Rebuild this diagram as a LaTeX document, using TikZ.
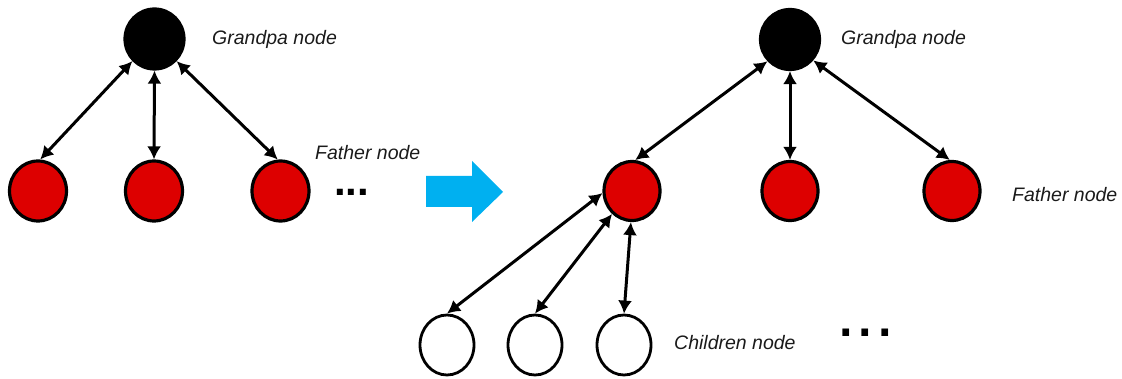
\documentclass[tikz,border=0pt]{standalone}
\usepackage{fontspec}
\setmainfont{Liberation Sans}
\usetikzlibrary{shapes.geometric,arrows.meta}
\definecolor{nodered}{HTML}{DD0000}
\definecolor{arrowblue}{HTML}{00B0F0}
\definecolor{labelgray}{HTML}{1A1A1A}
\begin{document}
\begin{tikzpicture}[x=1pt,y=-1pt,
  gnode/.style={ellipse,draw=black,line width=3.2pt,fill=black,minimum width=59pt,minimum height=60pt,inner sep=0pt},
  fnode/.style={ellipse,draw=black,line width=3.2pt,fill=nodered,minimum width=56pt,minimum height=59pt,inner sep=0pt},
  cnode/.style={ellipse,draw=black,line width=2.8pt,fill=white,minimum width=54pt,minimum height=60pt,inner sep=0pt},
  link/.style={line width=3pt,{Latex[length=13pt,width=14pt]}-{Latex[length=13pt,width=14pt]}},
  lbl/.style={font=\fontsize{19.5}{22}\selectfont\itshape,text=labelgray,inner sep=0pt,anchor=west}
]
\useasboundingbox (0,0) rectangle (1122,379);
% left tree
\node[gnode] (gpL) at (154.5,39) {};
\node[fnode,minimum width=57pt,minimum height=60pt] (fL1) at (38,191) {};
\node[fnode,minimum width=57pt,minimum height=60pt] (fL2) at (154,191) {};
\node[fnode,minimum width=57pt,minimum height=60pt] (fL3) at (280.5,191) {};
\node[lbl] (gpLlab) at (212,39) {Grandpa node};
\node[lbl] (fLlab) at (315,153) {Father node};
\node[inner sep=0pt,anchor=base west,font=\fontsize{42}{42}\selectfont\bfseries] (dotsL) at (334,196) {...};
\draw[link] (gpL.225) -- (fL1.86);
\draw[link] (gpL.south) -- (fL2.north);
\draw[link] (gpL.315) -- (fL3.95);
% blue arrow
\fill[arrowblue] (426,176) -- (472,176) -- (472,161) -- (503,192) -- (472,222) -- (472,207) -- (426,207) -- cycle;
% right tree
\node[gnode] (gpR) at (790,39.5) {};
\node[fnode] (fR1) at (632,191) {};
\node[fnode] (fR2) at (790,191) {};
\node[fnode] (fR3) at (952,191) {};
\node[cnode] (cR1) at (447,345) {};
\node[cnode] (cR2) at (535,345) {};
\node[cnode] (cR3) at (624,345) {};
\node[lbl] (gpRlab) at (841,39) {Grandpa node};
\node[lbl] (fRlab) at (1012,195) {Father node};
\node[lbl] (cRlab) at (674,343) {Children node};
\node[inner sep=0pt,anchor=base west,font=\fontsize{70}{70}\selectfont] (dotsR) at (836,337) {...};
\draw[link] (gpR.224) -- (fR1.84);
\draw[link] (gpR.south) -- (fR2.north);
\draw[link] (gpR.318) -- (fR3.94);
\draw[link] (cR1.north) -- (fR1.184);
\draw[link] (cR2.north) -- (fR1.229);
\draw[link] (cR3.north) -- (fR1.268);
\end{tikzpicture}
\end{document}
